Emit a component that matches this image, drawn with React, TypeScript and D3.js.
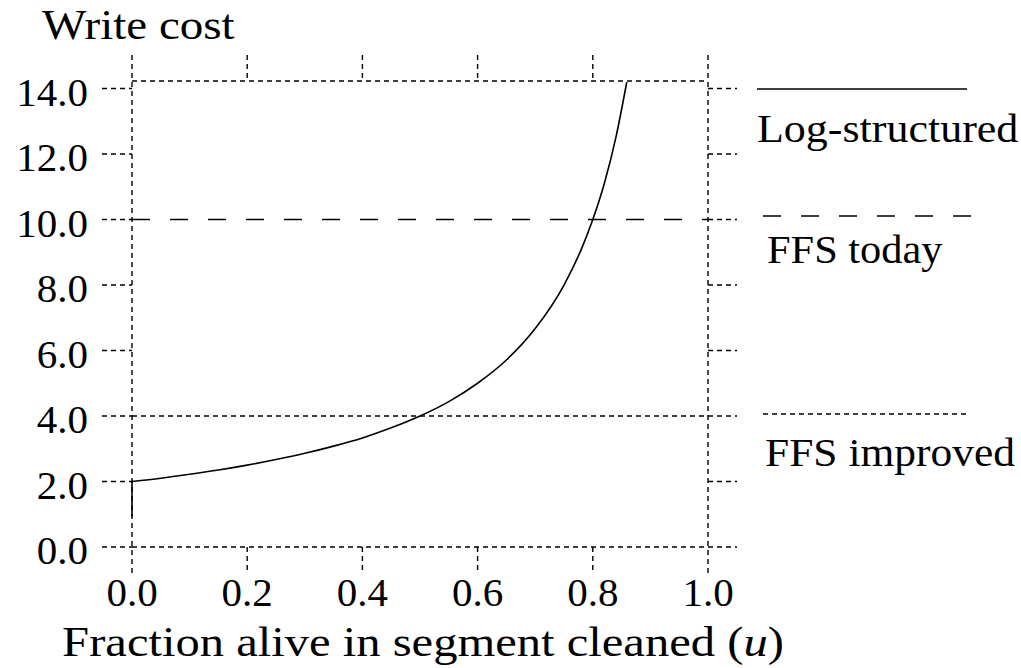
import React from "react";
import * as d3 from "d3";

// values
const uValues = [0, 0.05, 0.1, 0.15, 0.2, 0.25, 0.3, 0.35, 0.4, 0.45, 0.5, 0.55, 0.6, 0.65, 0.7, 0.75, 0.78, 0.8, 0.82, 0.84, 0.859];
const costValues = [2.0, 2.1, 2.22, 2.35, 2.5, 2.67, 2.86, 3.08, 3.33, 3.64, 4.0, 4.44, 5.0, 5.71, 6.67, 8.0, 9.09, 10.0, 11.1, 12.5, 14.2];
const startCost = 0.92; // little vertical stub at u = 0

const ffsToday = 10.0;
const ffsImproved = 4.0;

const xTicks = [0, 0.2, 0.4, 0.6, 0.8, 1.0];
const yTicks = [0, 2, 4, 6, 8, 10, 12, 14];

const legendLabels = ["Log-structured", "FFS today", "FFS improved"];

const FONT = "'Liberation Serif', 'Times New Roman', serif";
const TICK_DASH = "5,4";

export default function App() {
  const x = d3.scaleLinear().domain([0, 1]).range([132, 708]);
  const y = d3.scaleLinear().domain([0, 14.23]).range([547, 81]);

  const pts: [number, number][] = uValues.map((u, i) => [u, costValues[i]]);
  const line = d3
    .line<[number, number]>()
    .x((d) => x(d[0]))
    .y((d) => y(d[1]))
    .curve(d3.curveMonotoneX);

  const x0 = x(0), x1 = x(1);
  const yTop = y(14.23), yBot = y(0);
  const ext = 26;

  return (
    <svg width={1021} height={668} style={{ position: "absolute", left: 0, top: 0, background: "#fff" }}>
      <g stroke="#000" strokeWidth={1.4} fill="none">
        {/* left / right frame lines with tick extension */}
        <line x1={x0} x2={x0} y1={yTop - ext} y2={yBot + ext} strokeDasharray={TICK_DASH} />
        <line x1={x1} x2={x1} y1={yTop - ext} y2={yBot + ext} strokeDasharray={TICK_DASH} />
        {/* top frame */}
        <line x1={x0} x2={x1} y1={yTop} y2={yTop} strokeDasharray={TICK_DASH} />
        {/* x ticks top and bottom */}
        {xTicks.slice(1, -1).map((t) => (
          <g key={"xt" + t}>
            <line x1={x(t)} x2={x(t)} y1={yTop - ext} y2={yTop} strokeDasharray={TICK_DASH} />
            <line x1={x(t)} x2={x(t)} y1={yBot} y2={yBot + ext} strokeDasharray={TICK_DASH} />
          </g>
        ))}
        {/* y ticks left and right */}
        {yTicks.map((t) => (
          <g key={"yt" + t}>
            <line x1={x0 - 30} x2={x0} y1={y(t)} y2={y(t)} strokeDasharray={TICK_DASH} />
            <line x1={x1} x2={x1 + 29} y1={y(t)} y2={y(t)} strokeDasharray={TICK_DASH} />
          </g>
        ))}
        {/* baseline */}
        <line x1={x0} x2={x1} y1={yBot} y2={yBot} strokeDasharray={TICK_DASH} />
        {/* FFS improved */}
        <line x1={x0} x2={x1} y1={y(ffsImproved)} y2={y(ffsImproved)} strokeDasharray={TICK_DASH} />
        {/* FFS today */}
        <line x1={x0} x2={x1} y1={y(ffsToday)} y2={y(ffsToday)} strokeDasharray="18,20" />
        {/* log-structured curve */}
        <line x1={x(0)} x2={x(0)} y1={y(startCost)} y2={y(costValues[0])} strokeWidth={1.6} />
        <path d={line(pts) || ""} strokeWidth={1.6} />

        {/* legend lines */}
        <line x1={757} x2={967} y1={89} y2={89} strokeWidth={1.6} />
        <line x1={763} x2={972} y1={216} y2={216} strokeDasharray="18,20" />
        <line x1={763} x2={968} y1={414} y2={414} strokeDasharray="5,4" />
      </g>

      <g fontFamily={FONT} fill="#000">
        <text transform="translate(42,39) scale(1.12,1)" fontSize={42}>Write cost</text>
        {yTicks.map((t) => (
          <text key={"yl" + t} x={88} y={y(t) + 17} fontSize={41} textAnchor="end">
            {t.toFixed(1)}
          </text>
        ))}
        {xTicks.map((t) => (
          <text key={"xl" + t} x={x(t)} y={606} fontSize={41} textAnchor="middle">
            {t.toFixed(1)}
          </text>
        ))}
        <text transform="translate(423,656) scale(1.13,1)" fontSize={43} textAnchor="middle">
          Fraction alive in segment cleaned (<tspan fontStyle="italic">u</tspan>)
        </text>
        <text transform="translate(757,142) scale(1.1,1)" fontSize={40}>{legendLabels[0]}</text>
        <text transform="translate(767,263) scale(1.06,1)" fontSize={40}>{legendLabels[1]}</text>
        <text transform="translate(765,466) scale(1.087,1)" fontSize={40}>{legendLabels[2]}</text>
      </g>
    </svg>
  );
}
